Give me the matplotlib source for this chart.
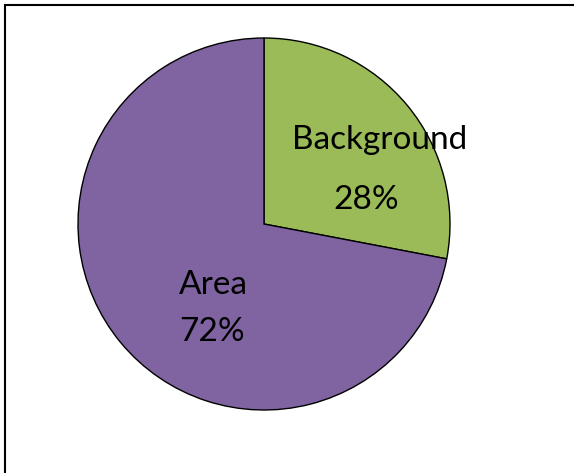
import matplotlib
matplotlib.use("Agg")
import matplotlib.pyplot as plt
from matplotlib.patches import Rectangle

labels = ["Background", "Area"]
values = [28, 72]
colors = ["#9BBB59", "#8064A2"]
# label anchor points (name, percent) in pie data units
name_pos = [(0.62, 0.45), (-0.27, -0.33)]
pct_pos = [(0.55, 0.13), (-0.28, -0.58)]

W, H = 574, 473
fig = plt.figure(figsize=(W / 100, H / 100), dpi=100)
fig.patches.append(Rectangle((5 / W, -0.1), 1.2, (H - 5) / H + 0.1,
                             transform=fig.transFigure, fill=False,
                             edgecolor="black", linewidth=1.5))

ax = fig.add_axes([78 / W, 63 / H, 372 / W, 372 / H])
ax.pie(values, colors=colors, startangle=90, counterclock=False,
       wedgeprops=dict(edgecolor="black", linewidth=1))
ax.set_xlim(-1, 1)
ax.set_ylim(-1, 1)
ax.set_aspect("equal")
ax.axis("off")

total = sum(values)
for lab, v, (nx, ny), (px, py) in zip(labels, values, name_pos, pct_pos):
    ax.text(nx, ny, lab, ha="center", va="center", fontsize=24, family="Lato")
    ax.text(px, py, "%d%%" % round(100 * v / total), ha="center", va="center",
            fontsize=24, family="Lato")

fig.savefig("out.png", dpi=100)
